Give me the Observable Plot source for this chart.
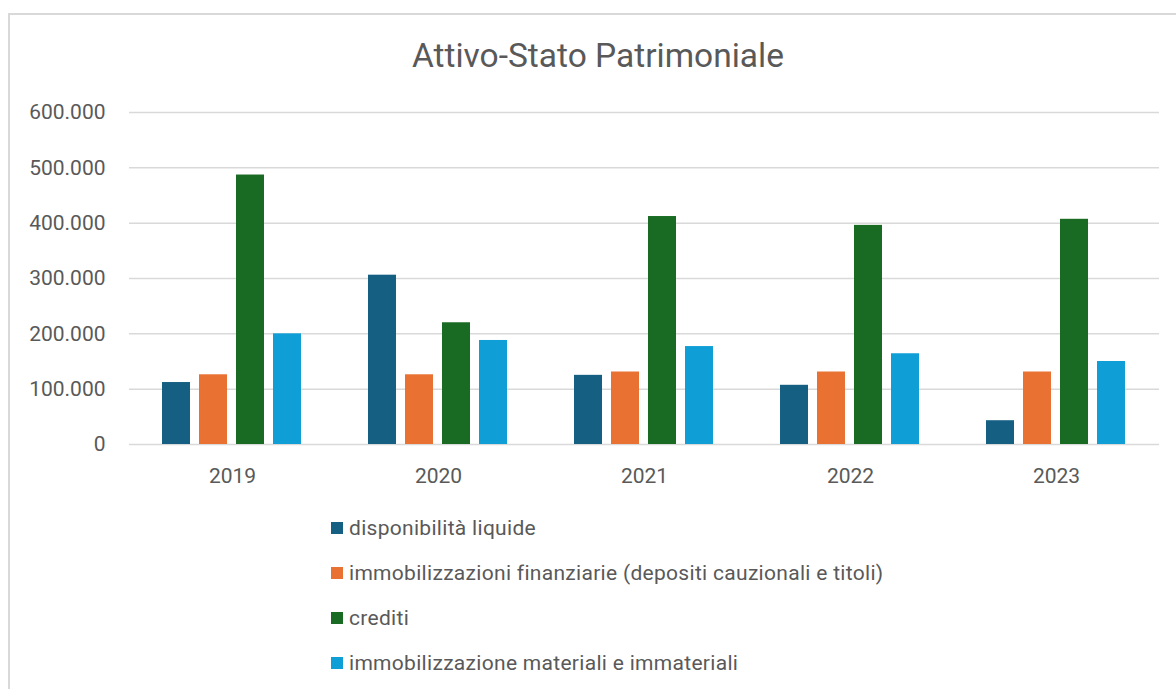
<!DOCTYPE html>
<html><head><meta charset="utf-8">
<script src="https://cdn.jsdelivr.net/npm/d3@7"></script>
<script src="https://cdn.jsdelivr.net/npm/@observablehq/plot@0.6"></script>
<style>
body{margin:0;background:#fff;font-family:Roboto,"Liberation Sans",sans-serif;overflow:hidden;}
#frame{position:absolute;left:8px;top:13px;width:1200px;height:700px;border-left:2px solid #d9d9d9;border-top:2px solid #d9d9d9;}
#title{position:absolute;left:0;width:1196px;top:36px;text-align:center;font-size:33.5px;color:#595959;}
#chart{position:absolute;left:0;top:90px;}
#legend{position:absolute;left:331px;top:505px;}
.item{display:flex;align-items:center;height:45px;font-size:21px;letter-spacing:0.3px;color:#595959;}
.sw{width:12px;height:12px;margin-right:6px;flex:none;}
</style>
</head><body>
<div id="frame"></div>
<div id="title">Attivo-Stato Patrimoniale</div>
<div id="chart"></div>
<div id="legend"></div>
<script>
const years = ["2019", "2020", "2021", "2022", "2023"];
const seriesNames = [
  "disponibilità liquide",
  "immobilizzazioni finanziarie (depositi cauzionali e titoli)",
  "crediti",
  "immobilizzazione materiali e immateriali"
];
const colors = ["#156082", "#E97132", "#196B24", "#0F9ED5"];
const disponibilita = [112000, 306000, 125000, 107000, 43000];
const immobFinanziarie = [126000, 126000, 131000, 131000, 131000];
const crediti = [487000, 220000, 412000, 396000, 407000];
const immobMateriali = [200000, 188000, 177000, 164000, 150000];
const yTicks = [0, 100000, 200000, 300000, 400000, 500000, 600000];

const seriesValues = [disponibilita, immobFinanziarie, crediti, immobMateriali];
const data = [];
years.forEach((yr, i) => {
  seriesNames.forEach((s, j) => data.push({year: yr, series: s, value: seriesValues[j][i]}));
});

const fmt = d => d3.format(",")(d).replace(/,/g, ".");

const chart = Plot.plot({
  width: 1176,
  height: 404,
  marginTop: 22,
  marginBottom: 50,
  marginLeft: 128,
  marginRight: 16,
  style: {fontFamily: "Roboto, 'Liberation Sans', sans-serif", fontSize: "21px", color: "#595959", background: "transparent"},
  fx: {domain: years, padding: 0, label: null},
  x: {domain: seriesNames, paddingInner: 0.23, paddingOuter: 0.855, axis: null},
  y: {domain: [0, 600000], label: null},
  color: {domain: seriesNames, range: colors},
  marks: [
    Plot.gridY(yTicks, {stroke: "#d9d9d9", strokeOpacity: 1, strokeWidth: 1.5}),
    Plot.axisY(yTicks, {tickSize: 0, tickPadding: 24, tickFormat: fmt, fontSize: 21, fill: "#595959", label: null}),
    Plot.axisFx({anchor: "bottom", tickSize: 0, tickPadding: 24, fontSize: 21, fill: "#595959", label: null}),
    Plot.barY(data, {fx: "year", x: "series", y: "value", fill: "series"})
  ]
});
document.getElementById("chart").appendChild(chart);

const legend = document.getElementById("legend");
seriesNames.forEach((s, j) => {
  const row = document.createElement("div");
  row.className = "item";
  const sw = document.createElement("span");
  sw.className = "sw";
  sw.style.background = colors[j];
  const t = document.createElement("span");
  t.textContent = s;
  row.appendChild(sw); row.appendChild(t);
  legend.appendChild(row);
});
</script>
</body></html>
